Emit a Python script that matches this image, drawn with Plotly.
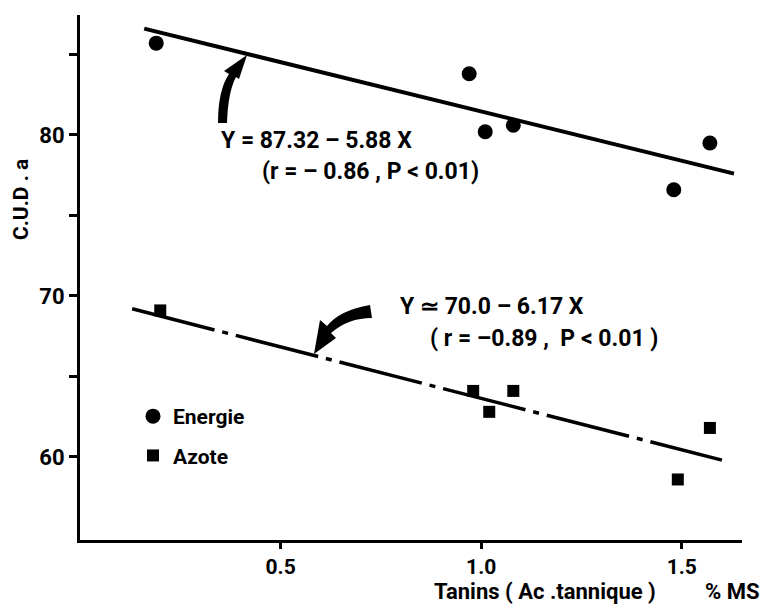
import plotly.graph_objects as go

# ---- data ----
energie_x = [0.19, 0.97, 1.01, 1.08, 1.48, 1.57]
energie_y = [85.7, 83.8, 80.2, 80.6, 76.6, 79.5]
azote_x = [0.20, 0.98, 1.02, 1.08, 1.49, 1.57]
azote_y = [69.1, 64.1, 62.8, 64.1, 58.6, 61.8]

fit_energie_x = [0.16, 1.63]
fit_energie_y = [86.6, 77.6]
fit_azote_x = [0.13, 1.60]
fit_azote_y = [69.2, 59.8]

x_tickvals = [0.5, 1.0, 1.5]
x_ticktext = ["0.5", "1.0", "1.5"]
y_tickvals = [60, 65, 70, 75, 80, 85]
y_ticktext = ["60", "", "70", "", "80", ""]

eq_energie = ["Y = 87.32 \u2013 5.88 X", "(r = \u2013 0.86 , P < 0.01)"]
eq_azote = ["Y \u2243 70.0 \u2013 6.17 X", "( r = \u20130.89 ,  P < 0.01 )"]
x_title = ["Tanins ( Ac .tannique )", "% MS"]
y_title = "C.U.D . a"

# ---- layout constants ----
W, H = 765, 613
ML, MR, MT, MB = 80, 23, 15, 73
XR = [0.0, 1.65]
YR = [54.84, 87.45]
FONT = "Roboto, Liberation Sans, Arial, sans-serif"
pw = W - ML - MR
ph = H - MT - MB


def px(xp, yp):
    x = XR[0] + (xp - ML) / pw * (XR[1] - XR[0])
    y = YR[1] - (yp - MT) / ph * (YR[1] - YR[0])
    return x, y


def paper(xp, yp):
    return (xp - ML) / pw, (H - MB - yp) / ph


def path_from(cmds):
    out = []
    for c in cmds:
        if isinstance(c, str):
            out.append(c)
        else:
            x, y = px(*c)
            out.append(f"{x:.5f},{y:.4f}")
    return " ".join(out)


fig = go.Figure()

fig.add_trace(go.Scatter(x=fit_energie_x, y=fit_energie_y, mode="lines",
                         line=dict(color="black", width=4), showlegend=False,
                         hoverinfo="skip"))
fig.add_trace(go.Scatter(x=fit_azote_x, y=fit_azote_y, mode="lines",
                         line=dict(color="black", width=3.5, dash="85px,8px,6px,8px"),
                         showlegend=False, hoverinfo="skip"))
fig.add_trace(go.Scatter(x=energie_x, y=energie_y, mode="markers", name="Energie",
                         legendgroup="e",
                         marker=dict(symbol="circle", size=15, color="black")))
fig.add_trace(go.Scatter(x=azote_x, y=azote_y, mode="markers", name="Azote",
                         legendgroup="a",
                         marker=dict(symbol="square", size=12, color="black")))

# curved arrows (decorations)
arrow1 = path_from(["M", (218, 123), "Q", (218, 90), (229, 74), "L", (224, 71),
                    "L", (247, 55), "L", (239, 79), "L", (236, 77),
                    "Q", (228, 92), (227, 123), "Z"])
arrow2 = path_from(["M", (370, 305), "L", (372, 318), "Q", (348, 318), (331, 333),
                    "L", (336, 338), "L", (314, 354), "L", (320, 320),
                    "L", (327, 326), "Q", (340, 310), (370, 305), "Z"])
shapes = [dict(type="path", xref="x", yref="y", path=p, fillcolor="black",
               line=dict(width=0)) for p in (arrow1, arrow2)]

annotations = []


def add_text(text, xp, yp, size=23, anchor="left", angle=0):
    x, y = paper(xp, yp)
    annotations.append(dict(x=x, y=y, xref="paper", yref="paper", text=text, showarrow=False,
                            xanchor=anchor, yanchor="middle", textangle=angle,
                            font=dict(family=FONT, size=size, color="black", weight="bold")))


add_text(eq_energie[0], 219, 140)
add_text(eq_energie[1], 260, 171)
add_text(eq_azote[0], 398, 307)
add_text(eq_azote[1], 428, 338)
add_text(y_title, 21, 200, size=21, anchor="center", angle=-90)
add_text(x_title[0], 658, 591, size=22, anchor="right")
add_text(x_title[1], 762, 591, size=22, anchor="right")

lx, ly = paper(133, 396)
fig.update_layout(
    width=W, height=H,
    margin=dict(l=ML, r=MR, t=MT, b=MB),
    paper_bgcolor="white", plot_bgcolor="white",
    font=dict(family=FONT, color="black", weight="bold"),
    shapes=shapes, annotations=annotations,
    legend=dict(x=lx, y=ly, xanchor="left", yanchor="top",
                bgcolor="rgba(0,0,0,0)", font=dict(family=FONT, size=21, weight="bold"),
                traceorder="grouped", tracegroupgap=9, itemwidth=30),
    xaxis=dict(range=XR, showline=True, linecolor="black", linewidth=3, mirror=False,
               showgrid=False, zeroline=False, ticks="outside", ticklen=6, tickwidth=3,
               tickcolor="black", tickvals=x_tickvals, ticktext=x_ticktext,
               tickfont=dict(family=FONT, size=21, color="black", weight="bold")),
    yaxis=dict(range=YR, showline=True, linecolor="black", linewidth=3, mirror=False,
               showgrid=False, zeroline=False, ticks="outside", ticklen=8, tickwidth=3,
               tickcolor="black", tickvals=y_tickvals, ticktext=y_ticktext,
               tickfont=dict(family=FONT, size=22, color="black", weight="bold")),
)

fig.write_html("out.html", config={"displayModeBar": False},
               post_script="document.body.style.margin='0';")
